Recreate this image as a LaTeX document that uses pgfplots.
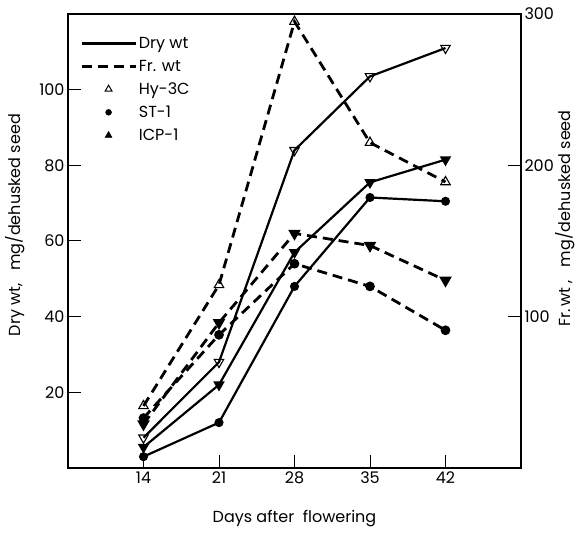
\documentclass[border=0pt]{standalone}
\usepackage{fontspec}
\setmainfont{Poppins}
\usepackage{pgfplots}
\pgfplotsset{compat=1.18}

\pgfplotstableread{
x   hyd   std   icpd
14  8     3     5.5
21  28    12    22
28  84    48    57
35  103.5 71.5  75.5
42  111   70.5  81.5
}\drywt
\pgfplotstableread{
x   hyf   stf   icpf
14  41    33    29
21  121   88    96
28  295   135   155
35  215   120   147
42  189   91    124
}\frwt

\tikzset{
  drysty/.style={black, line width=2.2bp, solid},
  frsty/.style={black, line width=2.8bp, dash pattern=on 10bp off 6bp},
}
\pgfplotsset{
  common/.style={
    scale only axis, width=453bp, height=454bp,
    xmin=7, xmax=49,
    tick align=inside, major tick length=13bp,
    tick style={black, line width=1bp},
    axis line style={line width=1.2bp},
    /pgf/number format/assume math mode=true,
    tick label style={font=\fontsize{16bp}{18bp}\selectfont},
    label style={font=\fontsize{16bp}{18bp}\selectfont},
  },
}

\begin{document}
\begin{tikzpicture}
\begin{axis}[common, name=ax,
  ymin=0, ymax=120,
  xtick={14,21,28,35,42}, ytick={20,40,60,80,100},
  xtick pos=left, ytick pos=left,
  xlabel={Days after\ \ flowering},
  ylabel={Dry wt,\ \ \ mg/dehusked seed},
  xlabel style={at={(axis description cs:0.5,-0.112)}, anchor=center},
  ylabel style={at={(axis description cs:-0.117,0.535)}, anchor=center},
  legend style={at={(axis description cs:0.02,0.958)}, anchor=north west,
    draw=none, fill=none, font=\fontsize{16bp}{18bp}\selectfont,
    row sep=6bp},
  legend cell align=left,
  legend image code/.code={\draw[mark repeat=2,mark phase=2,#1]
    plot coordinates {(0cm,0cm) (0.95cm,0cm) (1.9cm,0cm)};},
]
\addlegendimage{drysty}
\addlegendentry{Dry wt}
\addlegendimage{frsty}
\addlegendentry{Fr. wt}
\addlegendimage{only marks, mark=triangle, mark size=4pt, mark options={solid, line width=1bp, fill=white}}
\addlegendentry{Hy-3C}
\addlegendimage{only marks, mark=*, mark size=3pt}
\addlegendentry{ST-1}
\addlegendimage{only marks, mark=triangle*, mark size=4pt}
\addlegendentry{ICP-1}

\addplot[drysty, mark=triangle, mark size=5.5pt, mark options={solid, line width=1.1bp, fill=white, rotate=180}, forget plot]
  table[x=x, y=hyd] {\drywt};
\addplot[drysty, mark=*, mark size=3.4pt, mark options={solid}, forget plot]
  table[x=x, y=std] {\drywt};
\addplot[drysty, mark=triangle*, mark size=4.5pt, mark options={solid, rotate=180}, forget plot]
  table[x=x, y=icpd] {\drywt};
\end{axis}

\begin{axis}[common,
  ymin=0, ymax=300,
  axis x line=none, axis y line*=right,
  ytick={100,200,300},
  ylabel={Fr.\,wt ,\ \ \ mg/dehusked seed},
  ylabel style={at={(axis description cs:1.097,0.55)}, anchor=center, rotate=0},
]
\addplot[frsty, mark=triangle, mark size=5.5pt, mark options={solid, line width=1.1bp, fill=white}]
  table[x=x, y=hyf] {\frwt};
\addplot[frsty, mark=*, mark size=3.4pt, mark options={solid}]
  table[x=x, y=stf] {\frwt};
\addplot[frsty, mark=triangle*, mark size=4.5pt, mark options={solid, rotate=180}]
  table[x=x, y=icpf] {\frwt};
\end{axis}
\path ([xshift=-68bp,yshift=-67bp]ax.south west) rectangle ([xshift=60bp,yshift=14bp]ax.north east);
\end{tikzpicture}
\end{document}
